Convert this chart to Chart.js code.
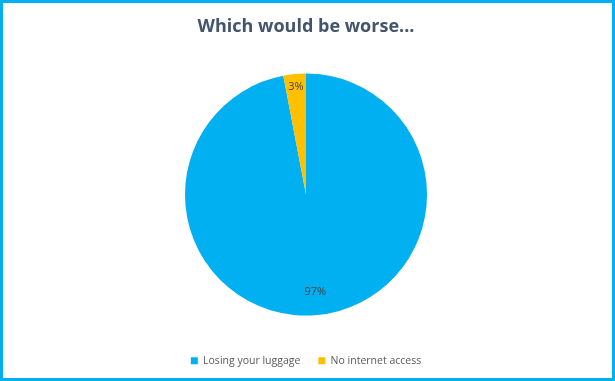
<!DOCTYPE html>
<html>
<head>
<meta charset="utf-8">
<script src="https://cdn.jsdelivr.net/npm/chart.js@4"></script>
<style>
  html, body { margin: 0; padding: 0; background: #fff; }
  #wrap { width: 615px; height: 381px; box-sizing: border-box; border: 3px solid #00B0F0; background: #fff; }
  #c { display: block; }
</style>
</head>
<body>
<div id="wrap"><canvas id="c" width="609" height="375"></canvas></div>
<script>
const categories = ["Losing your luggage", "No internet access"];
const values = [97, 3];
const colors = ["#00B0F0", "#FFC000"];
const titleText = "Which would be worse...";

const labelPlugin = {
  id: 'pctLabels',
  afterDatasetsDraw(chart) {
    const ctx = chart.ctx;
    const meta = chart.getDatasetMeta(0);
    const total = values.reduce((a, b) => a + b, 0);
    const frac = [0.81, 0.89];
    ctx.save();
    ctx.font = '11px "Open Sans", sans-serif';
    ctx.fillStyle = '#404040';
    ctx.textAlign = 'center';
    ctx.textBaseline = 'middle';
    meta.data.forEach((arc, i) => {
      const p = arc.getProps(['x', 'y', 'startAngle', 'endAngle', 'outerRadius'], true);
      const mid = (p.startAngle + p.endAngle) / 2;
      const r = p.outerRadius * frac[i];
      const txt = Math.round(values[i] / total * 100) + '%';
      ctx.fillText(txt, p.x + Math.cos(mid) * r, p.y + Math.sin(mid) * r);
    });
    ctx.restore();
  }
};

new Chart(document.getElementById('c'), {
  type: 'pie',
  data: {
    labels: categories,
    datasets: [{ data: values, backgroundColor: colors, borderWidth: 0, radius: 121 }]
  },
  options: {
    responsive: false,
    animation: false,
    layout: { padding: { top: 0, bottom: 2, left: 0, right: 3 } },
    plugins: {
      tooltip: { enabled: false },
      title: {
        display: true,
        text: titleText,
        color: '#44546A',
        font: { family: '"Open Sans", sans-serif', size: 18, weight: 'bold' },
        padding: { top: 13, bottom: 14 }
      },
      legend: {
        position: 'bottom',
        labels: {
          boxWidth: 7,
          boxHeight: 7,
          color: '#595959',
          font: { family: '"Open Sans", sans-serif', size: 10.5 },
          padding: 18
        }
      }
    }
  },
  plugins: [labelPlugin]
});
</script>
</body>
</html>
